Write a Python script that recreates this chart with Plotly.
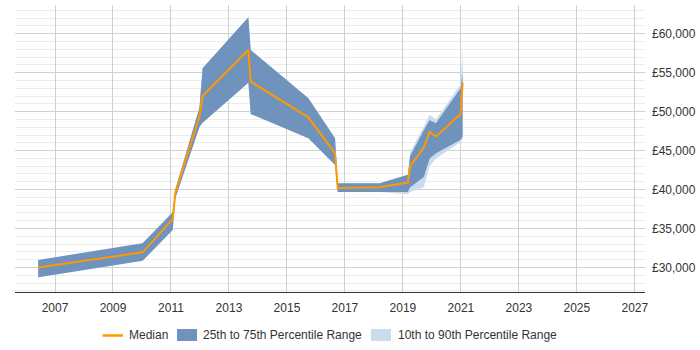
import plotly.graph_objects as go

# Time points (decimal years)
years = [2006.42, 2010.02, 2011.06, 2011.15, 2011.98, 2012.09, 2013.67, 2013.75,
         2015.74, 2016.66, 2016.75, 2018.20, 2019.17, 2019.25, 2019.72, 2019.92,
         2020.14, 2020.99, 2021.06]

median = [30000, 31950, 36200, 39600, 49350, 52000, 57900, 53840,
          49270, 44650, 40200, 40300, 40900, 43000, 45400, 47400,
          46800, 49700, 53700]

p75 = [30960, 33100, 37100, 40000, 50500, 55560, 62100, 57900,
       51710, 46580, 40800, 40800, 41900, 44300, 47600, 48900,
       48500, 53000, 54900]

p25 = [28740, 30870, 34800, 38900, 48000, 48580, 53710, 49700,
       46580, 43150, 39700, 39700, 39700, 40300, 41600, 44000,
       44650, 46400, 46800]

p90 = [30960, 33100, 37100, 40000, 50500, 55560, 62100, 57900,
       51710, 46580, 40800, 40800, 41900, 44800, 48100, 49600,
       49000, 53500, 58600]

p10 = [28740, 30870, 34800, 38900, 48000, 48580, 53710, 49700,
       46580, 43150, 39700, 39700, 39400, 39700, 40300, 43000,
       44000, 46100, 46500]

x_ticks = [2007, 2009, 2011, 2013, 2015, 2017, 2019, 2021, 2023, 2025, 2027]

series_names = ["Median", "25th to 75th Percentile Range", "10th to 90th Percentile Range"]
C_MED, C_IQR, C_DEC = "#FF9900", "#6F93BD", "#C9DBED"

fig = go.Figure()

fig.add_trace(go.Scatter(
    x=years + years[::-1], y=p90 + p10[::-1],
    fill="toself", mode="none", fillcolor=C_DEC,
    name=series_names[2], hoverinfo="skip"))

fig.add_trace(go.Scatter(
    x=years + years[::-1], y=p75 + p25[::-1],
    fill="toself", mode="none", fillcolor=C_IQR,
    name=series_names[1], hoverinfo="skip"))

fig.add_trace(go.Scatter(
    x=years, y=median, mode="lines",
    line=dict(color=C_MED, width=2),
    name=series_names[0]))

# Plot-area geometry in pixels (used only for the hand-made legend)
L, R, T, B, W, H = 15, 55, 5, 58, 700, 350
PW, PH = W - L - R, H - T - B


def px_x(px):
    return (px - L) / PW


def px_y(py):
    return (H - B - py) / PH


shapes = [
    dict(type="line", xref="paper", yref="paper",
         x0=px_x(102.5), x1=px_x(123), y0=px_y(335.5), y1=px_y(335.5),
         line=dict(color=C_MED, width=2.5)),
    dict(type="rect", xref="paper", yref="paper",
         x0=px_x(177), x1=px_x(197), y0=px_y(341), y1=px_y(329),
         fillcolor=C_IQR, line=dict(width=0)),
    dict(type="rect", xref="paper", yref="paper",
         x0=px_x(371), x1=px_x(391), y0=px_y(341), y1=px_y(329),
         fillcolor=C_DEC, line=dict(width=0)),
]

annotations = [
    dict(xref="paper", yref="paper", x=px_x(127.3), y=px_y(335), text=series_names[0],
         xanchor="left", yanchor="middle", showarrow=False, font=dict(size=12, color="#333")),
    dict(xref="paper", yref="paper", x=px_x(201), y=px_y(335), text=series_names[1],
         xanchor="left", yanchor="middle", showarrow=False, font=dict(size=12, color="#333")),
    dict(xref="paper", yref="paper", x=px_x(395.7), y=px_y(335), text=series_names[2],
         xanchor="left", yanchor="middle", showarrow=False, font=dict(size=12, color="#333")),
]

fig.update_layout(
    width=W, height=H,
    margin=dict(l=L, r=R, t=T, b=B),
    paper_bgcolor="white", plot_bgcolor="white",
    font=dict(family="Liberation Sans, Arial, sans-serif", size=12, color="#333"),
    showlegend=False,
    shapes=shapes, annotations=annotations,
    xaxis=dict(range=[2005.62, 2027.35], tickmode="array", tickvals=x_ticks,
               ticktext=[str(t) for t in x_ticks],
               showgrid=True, gridcolor="#d0d0d0", gridwidth=1,
               showline=True, linecolor="#333", linewidth=1,
               ticks="", ticklabelstandoff=5, zeroline=False,
               tickfont=dict(size=12, color="#333")),
    yaxis=dict(range=[26857, 63682], side="right", dtick=5000, tick0=0,
               tickprefix="£", tickformat=",d",
               showgrid=True, gridcolor="#d0d0d0", gridwidth=1,
               minor=dict(dtick=1000, showgrid=True, gridcolor="#ececec", gridwidth=1),
               zeroline=False, showline=False, ticks="", ticklabelstandoff=6,
               tickfont=dict(size=12, color="#333")),
)

fig.write_html("out.html")
